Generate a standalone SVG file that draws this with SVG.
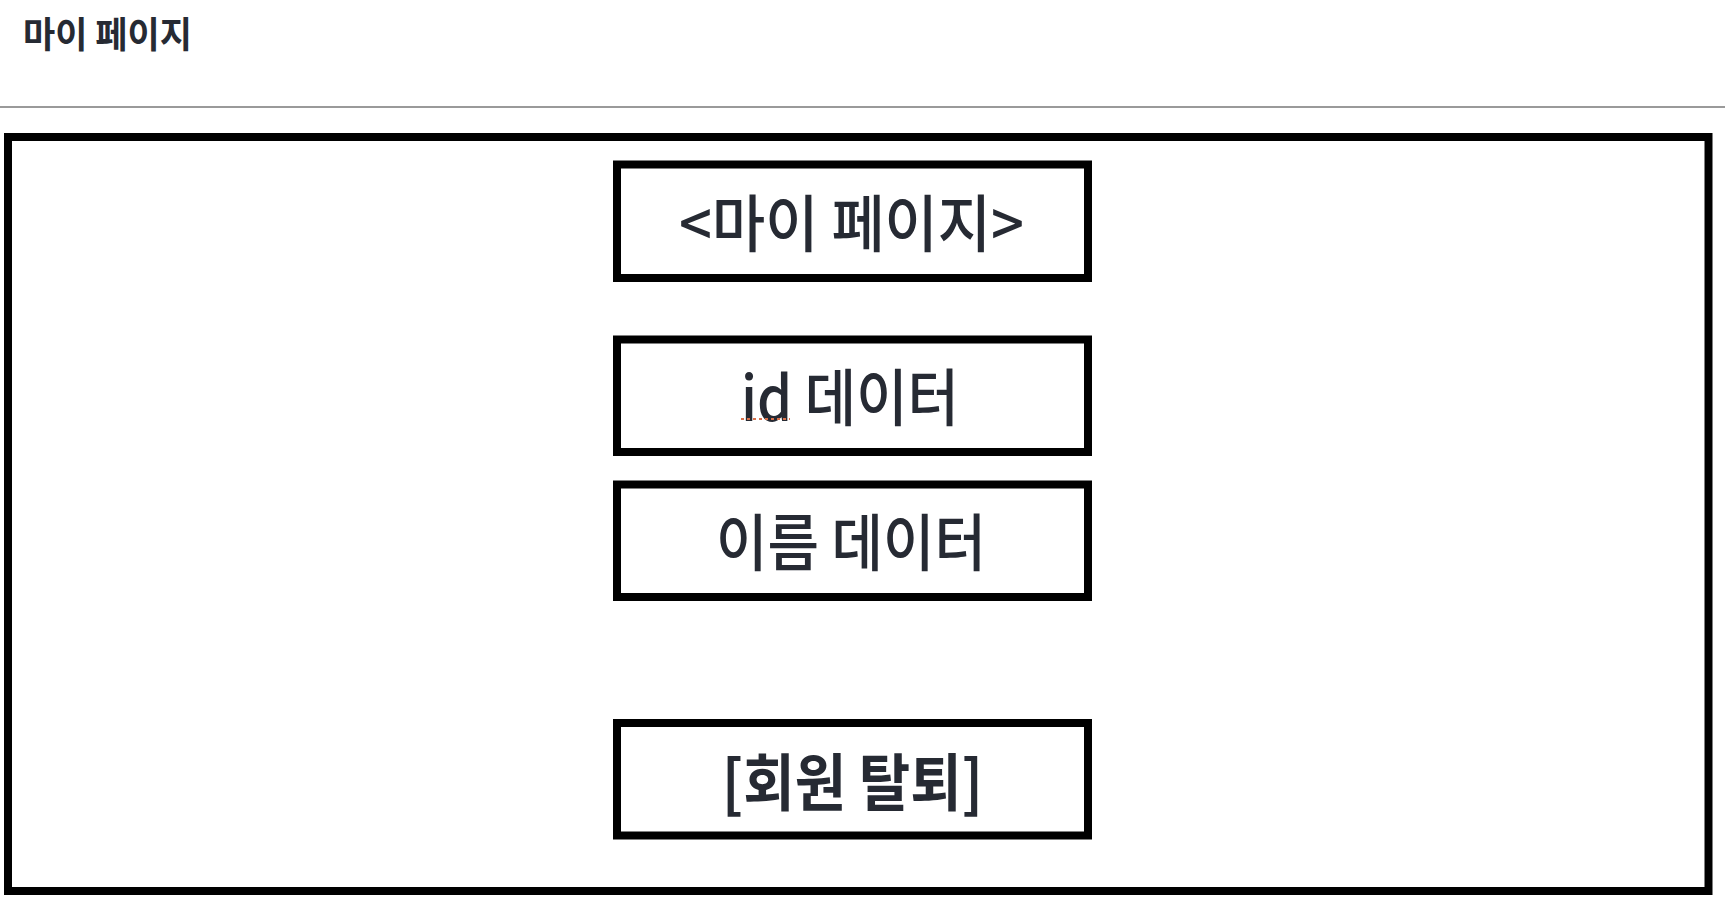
<svg xmlns="http://www.w3.org/2000/svg" width="1734" height="914" viewBox="0 0 1734 914">
<style>
.box{fill:#ffffff;stroke:#000000;stroke-width:8}
.lbl{font-family:"Noto Sans CJK KR","Noto Sans",sans-serif;font-size:62px;font-weight:500;fill:#262a33;text-anchor:middle;dominant-baseline:central}
.bold{font-weight:700}
</style>
<rect width="1734" height="914" fill="#ffffff"/>
<g id="header">
<text x="23" y="32" style="font-family:'Noto Sans CJK KR','Noto Sans',sans-serif;font-size:36px;font-weight:700;fill:#262a33;dominant-baseline:central" textLength="169" lengthAdjust="spacingAndGlyphs">마이 페이지</text>
<line x1="0" y1="107" x2="1725" y2="107" stroke="#9a9a9a" stroke-width="2"/>
</g>
<g id="frame">
<rect class="box" x="8" y="137" width="1700.5" height="754"/>
</g>
<g id="node-title">
<rect class="box" x="617" y="164.5" width="471" height="113.5"/>
<text class="lbl" x="851.5" y="220" textLength="345" lengthAdjust="spacingAndGlyphs">&lt;마이 페이지&gt;</text>
</g>
<g id="node-id">
<rect class="box" x="617" y="339.5" width="471" height="112.5"/>
<text class="lbl" x="850" y="394" textLength="218" lengthAdjust="spacingAndGlyphs">id 데이터</text>
<line x1="741" y1="419" x2="790" y2="419" stroke="#d9704a" stroke-width="2" stroke-dasharray="3 3"/>
</g>
<g id="node-name">
<rect class="box" x="617" y="484.5" width="471" height="112.5"/>
<text class="lbl" x="851" y="539" textLength="270" lengthAdjust="spacingAndGlyphs">이름 데이터</text>
</g>
<g id="node-withdraw">
<rect class="box" x="617" y="723" width="471" height="112.5"/>
<text class="lbl bold" x="852.5" y="779" textLength="261" lengthAdjust="spacingAndGlyphs">[회원 탈퇴]</text>
</g>
<g id="connectors"></g>
</svg>
